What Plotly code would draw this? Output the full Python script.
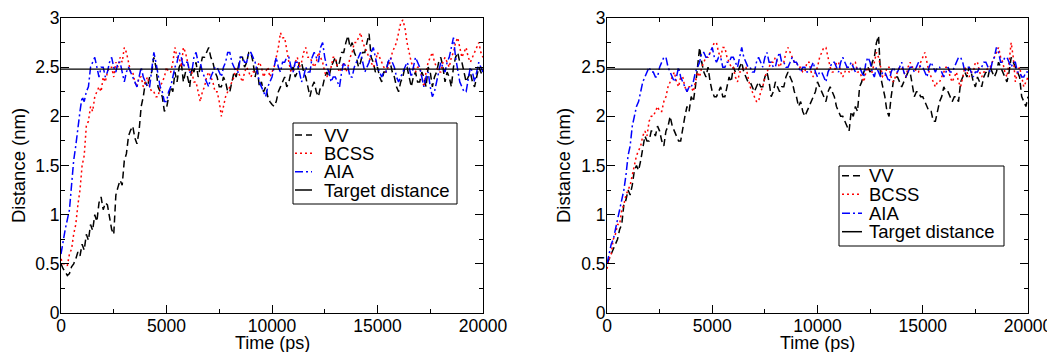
import plotly.graph_objects as go

time_ps = list(range(0, 20001, 100))
target_x = [0, 20000]
target_y = [2.48, 2.48]

left_vv = [
    0.50, 0.45, 0.42, 0.38, 0.40, 0.47, 0.50, 0.55, 0.62, 0.58,
    0.70, 0.64, 0.80, 0.74, 0.90, 0.84, 1.00, 0.93, 1.12, 1.18,
    1.05, 1.12, 1.10, 0.95, 0.85, 0.80, 1.20, 1.28, 1.35, 1.30,
    1.55, 1.62, 1.80, 1.86, 1.90, 1.78, 1.72, 1.85, 2.10, 2.20,
    2.35, 2.30, 2.40, 2.45, 2.60, 2.50, 2.30, 2.25, 2.20, 2.05,
    2.08, 2.20, 2.30, 2.25, 2.45, 2.35, 2.50, 2.55, 2.35, 2.45,
    2.40, 2.30, 2.50, 2.45, 2.55, 2.40, 2.50, 2.60, 2.60, 2.65,
    2.70, 2.60, 2.55, 2.45, 2.40, 2.30, 2.30, 2.40, 2.35, 2.25,
    2.25, 2.35, 2.45, 2.40, 2.50, 2.60, 2.60, 2.50, 2.55, 2.65,
    2.65, 2.55, 2.40, 2.50, 2.30, 2.35, 2.25, 2.30, 2.20, 2.15,
    2.12, 2.10, 2.15, 2.25, 2.30, 2.35, 2.40, 2.30, 2.35, 2.45,
    2.50, 2.40, 2.45, 2.55, 2.55, 2.45, 2.40, 2.30, 2.20, 2.30,
    2.35, 2.25, 2.20, 2.30, 2.30, 2.40, 2.45, 2.40, 2.50, 2.55,
    2.60, 2.50, 2.55, 2.65, 2.65, 2.75, 2.82, 2.70, 2.75, 2.65,
    2.60, 2.50, 2.55, 2.65, 2.65, 2.75, 2.84, 2.60, 2.55, 2.45,
    2.50, 2.40, 2.35, 2.45, 2.45, 2.55, 2.55, 2.45, 2.40, 2.30,
    2.25, 2.35, 2.40, 2.50, 2.50, 2.40, 2.30, 2.40, 2.45, 2.35,
    2.35, 2.45, 2.40, 2.30, 2.50, 2.45, 2.30, 2.40, 2.45, 2.55,
    2.60, 2.50, 2.35, 2.45, 2.40, 2.30, 2.50, 2.60, 2.65, 2.55,
    2.55, 2.45, 2.35, 2.40, 2.45, 2.35, 2.30, 2.40, 2.50, 2.45,
    2.40]
left_bcss = [
    0.55, 0.50, 0.50, 0.48, 0.60, 0.65, 0.80, 0.90, 1.10, 1.25,
    1.50, 1.60, 1.90, 1.95, 2.10, 2.05, 2.20, 2.25, 2.30, 2.25,
    2.40, 2.35, 2.45, 2.50, 2.50, 2.40, 2.55, 2.50, 2.60, 2.55,
    2.70, 2.65, 2.55, 2.45, 2.45, 2.35, 2.30, 2.40, 2.40, 2.30,
    2.35, 2.40, 2.30, 2.25, 2.25, 2.20, 2.20, 2.30, 2.35, 2.40,
    2.50, 2.45, 2.45, 2.55, 2.70, 2.60, 2.60, 2.50, 2.70, 2.65,
    2.55, 2.45, 2.45, 2.35, 2.35, 2.25, 2.15, 2.25, 2.30, 2.40,
    2.45, 2.40, 2.35, 2.25, 2.25, 2.15, 2.00, 2.10, 2.20, 2.25,
    2.30, 2.35, 2.40, 2.50, 2.45, 2.40, 2.35, 2.45, 2.50, 2.45,
    2.40, 2.45, 2.45, 2.50, 2.55, 2.50, 2.40, 2.45, 2.50, 2.40,
    2.45, 2.50, 2.60, 2.70, 2.85, 2.80, 2.80, 2.65, 2.55, 2.45,
    2.45, 2.55, 2.60, 2.50, 2.55, 2.65, 2.70, 2.60, 2.60, 2.55,
    2.50, 2.55, 2.65, 2.60, 2.55, 2.45, 2.40, 2.45, 2.50, 2.60,
    2.60, 2.50, 2.45, 2.50, 2.55, 2.45, 2.50, 2.60, 2.65, 2.75,
    2.75, 2.80, 2.85, 2.75, 2.70, 2.65, 2.60, 2.55, 2.50, 2.55,
    2.65, 2.60, 2.55, 2.50, 2.45, 2.50, 2.55, 2.65, 2.70, 2.75,
    2.85, 2.95, 2.98, 2.90, 2.75, 2.65, 2.55, 2.50, 2.45, 2.50,
    2.50, 2.40, 2.30, 2.45, 2.55, 2.60, 2.65, 2.55, 2.50, 2.45,
    2.45, 2.55, 2.60, 2.55, 2.50, 2.60, 2.65, 2.75, 2.80, 2.70,
    2.60, 2.65, 2.70, 2.60, 2.55, 2.60, 2.65, 2.70, 2.75, 2.65,
    2.60]
left_aia = [
    0.60, 0.75, 0.85, 0.95, 1.05, 1.30, 1.55, 1.70, 1.90, 2.05,
    2.20, 2.15, 2.25, 2.30, 2.50, 2.55, 2.60, 2.50, 2.40, 2.50,
    2.50, 2.40, 2.45, 2.55, 2.60, 2.50, 2.45, 2.55, 2.55, 2.45,
    2.35, 2.45, 2.50, 2.45, 2.40, 2.35, 2.30, 2.40, 2.50, 2.40,
    2.35, 2.30, 2.30, 2.50, 2.65, 2.55, 2.40, 2.30, 2.25, 2.15,
    2.15, 2.25, 2.30, 2.40, 2.50, 2.55, 2.65, 2.60, 2.50, 2.55,
    2.55, 2.45, 2.45, 2.60, 2.65, 2.55, 2.55, 2.45, 2.40, 2.35,
    2.30, 2.40, 2.45, 2.50, 2.50, 2.45, 2.40, 2.50, 2.55, 2.65,
    2.65, 2.55, 2.50, 2.45, 2.45, 2.60, 2.60, 2.55, 2.55, 2.65,
    2.65, 2.60, 2.55, 2.45, 2.35, 2.30, 2.25, 2.20, 2.30, 2.35,
    2.40, 2.50, 2.60, 2.50, 2.45, 2.55, 2.55, 2.60, 2.60, 2.50,
    2.45, 2.55, 2.55, 2.45, 2.35, 2.40, 2.50, 2.45, 2.45, 2.60,
    2.65, 2.60, 2.55, 2.70, 2.75, 2.60, 2.50, 2.45, 2.35, 2.40,
    2.40, 2.35, 2.30, 2.45, 2.55, 2.50, 2.50, 2.40, 2.40, 2.50,
    2.55, 2.60, 2.65, 2.55, 2.45, 2.50, 2.55, 2.65, 2.70, 2.60,
    2.50, 2.45, 2.40, 2.45, 2.45, 2.55, 2.60, 2.55, 2.50, 2.40,
    2.35, 2.40, 2.45, 2.50, 2.55, 2.50, 2.40, 2.50, 2.60, 2.55,
    2.50, 2.40, 2.30, 2.40, 2.45, 2.30, 2.20, 2.25, 2.35, 2.45,
    2.55, 2.50, 2.45, 2.55, 2.60, 2.70, 2.80, 2.60, 2.45, 2.35,
    2.30, 2.25, 2.25, 2.40, 2.50, 2.45, 2.35, 2.45, 2.55, 2.50,
    2.45]

right_vv = [
    0.50, 0.55, 0.60, 0.65, 0.70, 0.75, 0.85, 0.90, 1.10, 1.15,
    1.25, 1.20, 1.30, 1.45, 1.50, 1.45, 1.55, 1.70, 1.80, 1.75,
    1.75, 1.85, 1.85, 1.80, 1.90, 1.85, 1.75, 1.70, 1.85, 1.90,
    2.00, 1.90, 1.85, 1.80, 1.75, 1.75, 1.90, 2.00, 2.10, 2.05,
    2.20, 2.15, 2.30, 2.50, 2.70, 2.55, 2.45, 2.40, 2.50, 2.35,
    2.25, 2.20, 2.20, 2.25, 2.30, 2.20, 2.20, 2.30, 2.40, 2.35,
    2.50, 2.45, 2.45, 2.50, 2.55, 2.45, 2.40, 2.35, 2.35, 2.30,
    2.25, 2.30, 2.35, 2.30, 2.30, 2.40, 2.45, 2.35, 2.20, 2.25,
    2.35, 2.30, 2.25, 2.30, 2.30, 2.40, 2.45, 2.40, 2.35, 2.25,
    2.20, 2.10, 2.15, 2.05, 2.00, 2.05, 2.10, 2.15, 2.20, 2.25,
    2.35, 2.30, 2.25, 2.20, 2.15, 2.25, 2.30, 2.25, 2.20, 2.10,
    2.05, 2.00, 2.00, 1.95, 1.90, 1.85, 2.05, 2.00, 2.10, 2.05,
    2.30, 2.35, 2.45, 2.50, 2.50, 2.45, 2.55, 2.60, 2.75, 2.82,
    2.40, 2.30, 2.20, 2.05, 2.00, 2.20, 2.35, 2.40, 2.40, 2.35,
    2.30, 2.35, 2.40, 2.45, 2.45, 2.30, 2.20, 2.25, 2.25, 2.20,
    2.20, 2.15, 2.10, 2.05, 2.05, 1.95, 1.95, 2.05, 2.15, 2.20,
    2.30, 2.25, 2.25, 2.20, 2.15, 2.20, 2.20, 2.15, 2.35, 2.40,
    2.45, 2.40, 2.50, 2.45, 2.35, 2.30, 2.40, 2.35, 2.30, 2.40,
    2.45, 2.40, 2.50, 2.45, 2.40, 2.45, 2.55, 2.50, 2.45, 2.40,
    2.35, 2.45, 2.60, 2.55, 2.50, 2.45, 2.40, 2.20, 2.15, 2.10,
    2.20]
right_bcss = [
    0.45, 0.55, 0.60, 0.75, 0.80, 0.90, 0.90, 1.05, 1.10, 1.20,
    1.25, 1.30, 1.40, 1.50, 1.60, 1.65, 1.70, 1.80, 1.85, 1.80,
    1.95, 2.00, 2.00, 2.05, 2.10, 2.05, 2.05, 2.15, 2.20, 2.30,
    2.35, 2.40, 2.45, 2.35, 2.30, 2.40, 2.40, 2.30, 2.25, 2.30,
    2.30, 2.25, 2.35, 2.45, 2.40, 2.50, 2.55, 2.60, 2.60, 2.65,
    2.70, 2.75, 2.75, 2.65, 2.60, 2.70, 2.70, 2.60, 2.55, 2.50,
    2.50, 2.40, 2.35, 2.45, 2.45, 2.50, 2.50, 2.40, 2.30, 2.25,
    2.20, 2.15, 2.15, 2.25, 2.30, 2.40, 2.45, 2.50, 2.55, 2.55,
    2.60, 2.55, 2.50, 2.55, 2.55, 2.65, 2.70, 2.65, 2.60, 2.55,
    2.55, 2.50, 2.50, 2.45, 2.45, 2.55, 2.55, 2.45, 2.40, 2.45,
    2.50, 2.60, 2.65, 2.70, 2.70, 2.60, 2.50, 2.45, 2.45, 2.55,
    2.55, 2.45, 2.40, 2.45, 2.50, 2.45, 2.45, 2.55, 2.55, 2.45,
    2.45, 2.40, 2.35, 2.45, 2.50, 2.45, 2.45, 2.55, 2.65, 2.60,
    2.50, 2.40, 2.40, 2.50, 2.50, 2.40, 2.35, 2.40, 2.45, 2.50,
    2.50, 2.45, 2.40, 2.50, 2.55, 2.50, 2.50, 2.45, 2.45, 2.55,
    2.60, 2.65, 2.55, 2.45, 2.40, 2.35, 2.30, 2.35, 2.35, 2.40,
    2.45, 2.50, 2.50, 2.40, 2.35, 2.40, 2.45, 2.35, 2.30, 2.40,
    2.50, 2.45, 2.40, 2.45, 2.45, 2.55, 2.55, 2.45, 2.40, 2.45,
    2.45, 2.50, 2.50, 2.55, 2.60, 2.65, 2.70, 2.60, 2.55, 2.45,
    2.40, 2.55, 2.75, 2.60, 2.35, 2.45, 2.50, 2.40, 2.30, 2.35,
    2.40]
right_aia = [
    0.50, 0.60, 0.70, 0.75, 0.85, 0.95, 1.05, 1.15, 1.25, 1.40,
    1.60, 1.70, 1.90, 2.00, 2.10, 2.15, 2.25, 2.35, 2.40, 2.45,
    2.50, 2.45, 2.45, 2.40, 2.40, 2.50, 2.55, 2.60, 2.60, 2.50,
    2.45, 2.40, 2.35, 2.40, 2.50, 2.40, 2.35, 2.30, 2.25, 2.30,
    2.30, 2.35, 2.45, 2.50, 2.55, 2.65, 2.65, 2.60, 2.60, 2.65,
    2.70, 2.60, 2.55, 2.60, 2.60, 2.50, 2.50, 2.55, 2.55, 2.60,
    2.60, 2.55, 2.50, 2.60, 2.70, 2.60, 2.55, 2.50, 2.50, 2.45,
    2.45, 2.55, 2.60, 2.55, 2.50, 2.60, 2.65, 2.55, 2.55, 2.50,
    2.50, 2.60, 2.65, 2.55, 2.55, 2.50, 2.50, 2.55, 2.60, 2.55,
    2.55, 2.50, 2.45, 2.50, 2.50, 2.45, 2.45, 2.50, 2.55, 2.45,
    2.40, 2.45, 2.45, 2.40, 2.35, 2.45, 2.50, 2.55, 2.55, 2.50,
    2.45, 2.55, 2.60, 2.55, 2.50, 2.50, 2.55, 2.50, 2.45, 2.50,
    2.50, 2.45, 2.40, 2.55, 2.60, 2.55, 2.45, 2.40, 2.50, 2.45,
    2.40, 2.45, 2.45, 2.40, 2.35, 2.45, 2.50, 2.45, 2.45, 2.50,
    2.55, 2.45, 2.40, 2.45, 2.50, 2.50, 2.45, 2.50, 2.55, 2.50,
    2.50, 2.45, 2.40, 2.50, 2.55, 2.50, 2.45, 2.50, 2.50, 2.45,
    2.40, 2.45, 2.50, 2.45, 2.45, 2.50, 2.55, 2.60, 2.60, 2.55,
    2.45, 2.50, 2.50, 2.45, 2.40, 2.45, 2.45, 2.50, 2.50, 2.55,
    2.55, 2.50, 2.45, 2.55, 2.60, 2.70, 2.65, 2.55, 2.55, 2.60,
    2.60, 2.55, 2.50, 2.55, 2.55, 2.45, 2.45, 2.40, 2.40, 2.45,
    2.45]

series_names = ["VV", "BCSS", "AIA", "Target distance"]
colors = ["black", "red", "blue", "black"]
dashes = ["7px,4px", "2px,3px", "8px,3px,2px,3px", "solid"]
x_title = "Time (ps)"
y_title = "Distance (nm)"

FONT = "Liberation Sans, Arial, sans-serif"
W, H = 1055, 352
OFF = 8  # page body margin offsets the figure by 8 px in the browser window
fig = go.Figure()

panels = [
    ("x", "y", [left_vv, left_bcss, left_aia]),
    ("x2", "y2", [right_vv, right_bcss, right_aia]),
]
for xa, ya, data in panels:
    for name, col, dsh, vals in zip(series_names[:3], colors[:3], dashes[:3], data):
        fig.add_trace(go.Scatter(x=time_ps, y=vals, mode="lines", name=name, xaxis=xa, yaxis=ya,
                                 showlegend=False, line=dict(color=col, width=1.5, dash=dsh)))
    fig.add_trace(go.Scatter(x=target_x, y=target_y, mode="lines", name=series_names[3], xaxis=xa, yaxis=ya,
                             showlegend=False, line=dict(color=colors[3], width=1.3, dash=dashes[3])))

axis_common = dict(showline=True, linecolor="black", linewidth=1, mirror="allticks", ticks="inside",
                   ticklen=8, tickcolor="black", showgrid=False, zeroline=False, automargin=False,
                   ticklabelstandoff=-3,
                   tickfont=dict(family=FONT, size=17.5, color="black"))
xcommon = dict(axis_common, range=[0, 20000], tickvals=[0, 5000, 10000, 15000, 20000],
               ticktext=["0", "5000", "10000", "15000", "20000"],
               minor=dict(ticks="inside", ticklen=4, tickcolor="black", dtick=2500, tick0=0))
ycommon = dict(axis_common, range=[0, 3], tickvals=[0, 0.5, 1, 1.5, 2, 2.5, 3],
               ticktext=["0", "0.5", "1", "1.5", "2", "2.5", "3"],
               minor=dict(ticks="inside", ticklen=4, tickcolor="black", dtick=0.25, tick0=0),
               title=dict(text=y_title, font=dict(family=FONT, size=18.5, color="black"), standoff=5))

def px_x(p):
    return (p - OFF) / W

def px_y(p):
    return 1 - (p - OFF) / H

yd = [px_y(313), px_y(18)]
plot_x = [(61, 483), (607, 1028)]

# custom legend frames (pixel geometry in the photographed window)
legend_boxes = [
    dict(x0=293, x1=457, y0=123, y1=204, rows=[135, 153.3, 171.7, 190], sx0=295, sx1=312, tx=323),
    dict(x0=839, x1=1004, y0=166, y1=246, rows=[175.7, 194.3, 213.3, 231.7], sx0=842, sx1=862, tx=868),
]
shapes = []
annotations = []
for lb in legend_boxes:
    shapes.append(dict(type="rect", xref="paper", yref="paper", x0=px_x(lb["x0"]), x1=px_x(lb["x1"]),
                       y0=px_y(lb["y1"]), y1=px_y(lb["y0"]), line=dict(color="black", width=1),
                       fillcolor="white", layer="above"))
    for name, col, dsh, ry in zip(series_names, colors, dashes, lb["rows"]):
        shapes.append(dict(type="line", xref="paper", yref="paper", x0=px_x(lb["sx0"]), x1=px_x(lb["sx1"]),
                           y0=px_y(ry), y1=px_y(ry), line=dict(color=col, width=1.5, dash=dsh),
                           layer="above"))
        annotations.append(dict(text=name, xref="paper", yref="paper", x=px_x(lb["tx"]), y=px_y(ry),
                                xanchor="left", yanchor="middle", showarrow=False, borderpad=0,
                                font=dict(family=FONT, size=18.5, color="black")))

# x-axis titles placed under each panel
for x0, x1 in plot_x:
    annotations.append(dict(text=x_title, xref="paper", yref="paper", x=px_x((x0 + x1) / 2), y=px_y(342.5),
                            xanchor="center", yanchor="middle", showarrow=False, borderpad=0,
                            font=dict(family=FONT, size=18, color="black")))

fig.update_layout(
    width=W, height=H, margin=dict(l=0, r=0, t=0, b=0),
    paper_bgcolor="white", plot_bgcolor="white",
    xaxis=dict(xcommon, domain=[px_x(plot_x[0][0]), px_x(plot_x[0][1])], anchor="y"),
    yaxis=dict(ycommon, domain=yd, anchor="x"),
    xaxis2=dict(xcommon, domain=[px_x(plot_x[1][0]), px_x(plot_x[1][1])], anchor="y2"),
    yaxis2=dict(ycommon, domain=yd, anchor="x2"),
    shapes=shapes, annotations=annotations,
    showlegend=False,
)
fig.write_html("out.html")
